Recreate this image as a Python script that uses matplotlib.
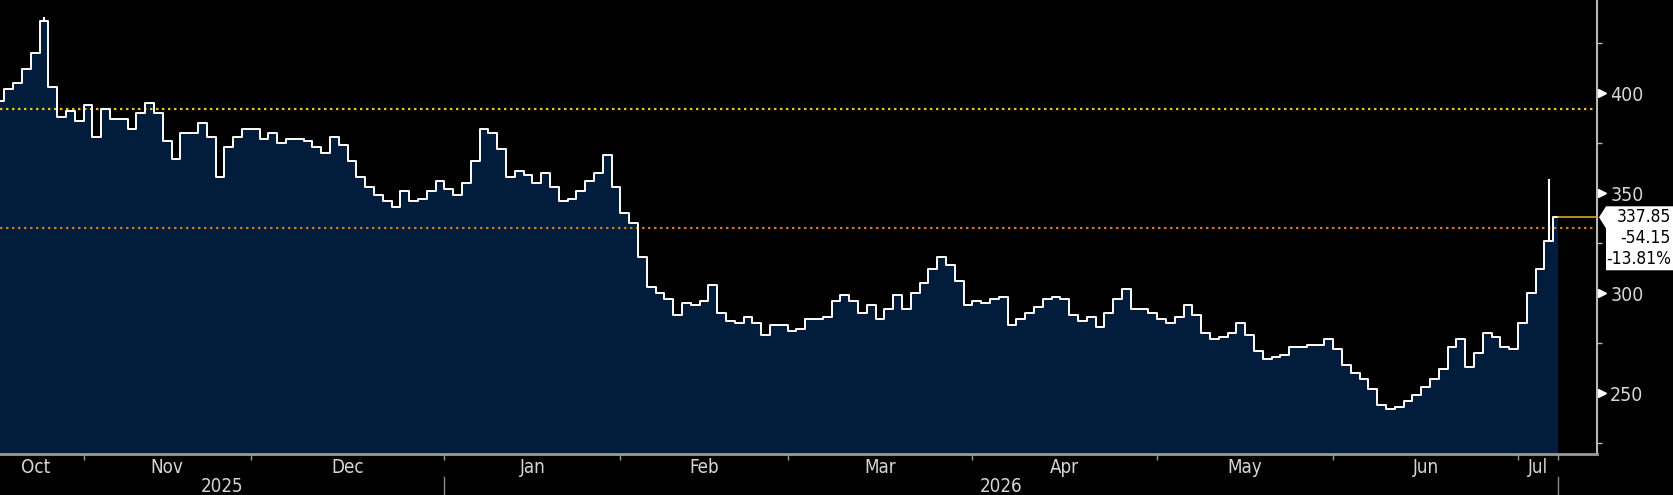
import numpy as np
import matplotlib
matplotlib.use('Agg')
import matplotlib.pyplot as plt
import matplotlib.transforms as mtransforms
from matplotlib.patches import Polygon
from matplotlib import font_manager

# narrow face if present, otherwise condensed DejaVu
names = {f.name for f in font_manager.fontManager.ttflist}
if 'Liberation Sans Narrow' in names:
    plt.rcParams['font.family'] = ['Liberation Sans Narrow', 'DejaVu Sans']
else:
    plt.rcParams['font.family'] = ['DejaVu Sans']
    plt.rcParams['font.stretch'] = 'condensed'

# Daily closes, one per trading day
closes = [
    396, 402, 405, 412, 420, 436, 403, 388, 391, 386,
    394, 378, 392, 387, 387, 382, 390, 395, 390, 376,
    367, 380, 380, 385, 378, 358, 373, 378, 382, 382,
    377, 380, 375, 377, 377, 376, 373, 370, 378, 374,
    366, 358, 353, 349, 346, 343, 351, 346, 347, 351,
    356, 352, 349, 355, 366, 382, 380, 372, 358, 361,
    359, 355, 360, 353, 346, 347, 351, 356, 360, 369,
    353, 340, 335, 318, 303, 300, 297, 289, 295, 294,
    296, 304, 290, 286, 285, 288, 285, 279, 284, 284,
    281, 282, 287, 287, 288, 296, 299, 296, 290, 294,
    287, 292, 299, 292, 300, 305, 312, 318, 314, 306,
    294, 296, 295, 297, 298, 284, 287, 290, 293, 297,
    298, 297, 289, 286, 288, 283, 290, 297, 302, 292,
    292, 290, 287, 285, 288, 294, 289, 280, 277, 278,
    280, 285, 279, 271, 267, 268, 269, 273, 273, 274,
    274, 277, 272, 264, 260, 257, 252, 244, 242, 243,
    246, 249, 253, 257, 262, 273, 277, 263, 270, 280,
    278, 273, 272, 285, 300, 312, 326, 337.85,
]
# a couple of intraday spikes that stick out of the close line
wick_idx = [5, 176]
wick_high = [438, 357]

start_value = 392.0     # yellow dotted reference
ma_value = 332.7        # orange dotted line
last_change = -54.15
last_pct = -13.81

month_ticks = [9.5, 28.5, 50.5, 70.5, 89.5, 110.5, 131.5, 151.5, 172.5]
month_labels = ['Oct', 'Nov', 'Dec', 'Jan', 'Feb', 'Mar', 'Apr', 'May', 'Jun', 'Jul']
year_labels = ['2025', '2026']

y_major = [250, 300, 350, 400]
y_minor = [225, 275, 325, 375, 425]

BG = 'black'
FILL = '#021d3b'
TXT = '#d6d6d6'
AXC = '#b8b8b8'

W, H = 1673, 495
fig = plt.figure(figsize=(W / 100, H / 100), dpi=100, facecolor=BG)
ax = fig.add_axes([0, 41 / H, 1597 / W, 454 / H])
ax.set_facecolor(BG)

x = np.arange(len(closes))
last = closes[-1]
end_x = x[-1]

ax.set_xlim(0, 1597 / 8.8)
ax.set_ylim(219.5, 446.5)

# area + stepped price line
ax.fill_between(x, closes, 0, step='mid', color=FILL, lw=0, zorder=1)
ax.axhline(start_value, color='#e8c41a', lw=1.6, ls=(0, (1.1, 1.6)), zorder=2)
ax.axhline(ma_value, color='#c8791a', lw=1.6, ls=(0, (1.1, 1.6)), zorder=2)
ax.step(x, closes, where='mid', color='white', lw=1.4, zorder=3)
ax.vlines(wick_idx, [closes[i] for i in wick_idx], wick_high, color='white', lw=1.5, zorder=3)

# last value leader line
ax.plot([end_x, ax.get_xlim()[1]], [last, last], color='#d9a521', lw=1.2,
        zorder=4, clip_on=False)

# spines
for s in ['left', 'top']:
    ax.spines[s].set_visible(False)
ax.spines['right'].set_color(AXC)
ax.spines['right'].set_linewidth(1.5)
ax.spines['bottom'].set_color('#9a9a9a')
ax.spines['bottom'].set_linewidth(2)

# y axis on the right with triangle markers
ax.yaxis.tick_right()
ax.set_yticks(y_major)
ax.set_yticklabels([str(v) for v in y_major])
ax.set_yticks(y_minor, minor=True)
ax.tick_params(axis='y', which='major', length=0, pad=9.5, labelsize=14, labelcolor=TXT)
ax.tick_params(axis='y', which='minor', length=3.6, width=1, color=AXC, direction='out')
tri = mtransforms.blended_transform_factory(ax.transAxes, ax.transData) + \
    mtransforms.ScaledTranslation(5 / 100, 0, fig.dpi_scale_trans)
ax.plot([1.0] * len(y_major), y_major, '>', color='white', ms=6, transform=tri,
        clip_on=False, zorder=5)
lbl_tr = mtransforms.blended_transform_factory(ax.transAxes, ax.transData) + \
    mtransforms.ScaledTranslation(13 / 100, 0, fig.dpi_scale_trans)
ax.text(1.0, 452, '450', transform=lbl_tr, color=TXT, fontsize=14, va='center',
        ha='left', clip_on=False)

# x axis: month boundary ticks, labels centred in each month
bounds = [0] + month_ticks + [end_x]
centers = [(bounds[i] + bounds[i + 1]) / 2 for i in range(len(bounds) - 1)]
centers[0] = 4.0
ax.set_xticks(month_ticks + [end_x])
ax.set_xticklabels([])
ax.set_xticks(centers, minor=True)
ax.set_xticklabels(month_labels, minor=True)
ax.tick_params(axis='x', which='major', length=4, width=1, color='#9a9a9a', direction='out')
ax.tick_params(axis='x', which='minor', length=0, pad=3, labelsize=13.5, labelcolor=TXT)

xb = mtransforms.blended_transform_factory(ax.transData, ax.transAxes)
year_split = month_ticks[2]
ax.text((0 + year_split) / 2, -0.071, year_labels[0], transform=xb, ha='center',
        va='center', color=TXT, fontsize=13.5)
ax.text((year_split + end_x) / 2, -0.071, year_labels[1], transform=xb, ha='center',
        va='center', color=TXT, fontsize=13.5)
for xv in [year_split, end_x]:
    ax.plot([xv, xv], [-0.05, -0.1], transform=xb, color='#8a8a8a', lw=1, clip_on=False)

# value box on the right
fig.canvas.draw()
xr = ax.transAxes.transform((1, 0))[0]
yt = ax.transData.transform((0, last))[1]
box = Polygon([(xr + 2, yt), (xr + 9, yt + 11), (W + 5, yt + 11), (W + 5, yt - 53),
               (xr + 9, yt - 53), (xr + 9, yt - 11)], closed=True,
              facecolor='white', edgecolor='none', transform=mtransforms.IdentityTransform())
fig.add_artist(box)
lines = [f'{last:.2f}', f'{last_change:.2f}', f'{last_pct:.2f}%']
for k, s in enumerate(lines):
    fig.text((W - 2) / W, (yt - 21 * k) / H, s, ha='right', va='center',
             color='black', fontsize=12.5)

fig.savefig('out.png', dpi=100, facecolor=BG)
